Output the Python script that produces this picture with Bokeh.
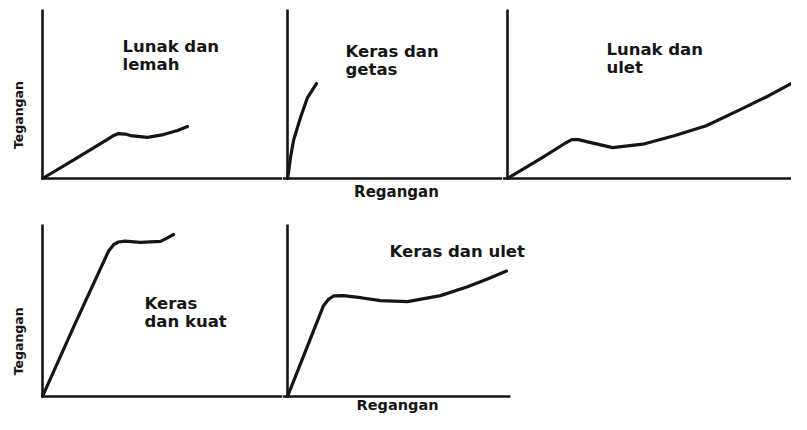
import math
from bokeh.plotting import figure
from bokeh.layouts import column, row
from bokeh.models import Span, Label
from bokeh.embed import file_html
from bokeh.resources import INLINE

# ---- data: strain (regangan) / stress (tegangan), arbitrary units ----
soft_weak_strain = [0, 1.3, 2.6, 2.85, 3.04, 3.3, 3.52, 4.2, 4.84, 5.4, 5.8]
soft_weak_stress = [0, 1.15, 2.31, 2.55, 2.66, 2.63, 2.54, 2.43, 2.6, 2.84, 3.08]

hard_brittle_strain = [0, 0.04, 0.12, 0.24, 0.52, 0.8, 1.16]
hard_brittle_stress = [0, 0.36, 1.24, 2.25, 3.61, 4.79, 5.62]

soft_ductile_strain = [0, 1.4, 2.45, 2.72, 3.0, 3.3, 4.44, 5.72, 7.04, 8.4, 9.72, 11.04, 12.0]
soft_ductile_stress = [0, 1.18, 2.1, 2.3, 2.3, 2.2, 1.83, 2.03, 2.53, 3.12, 4.0, 4.9, 5.62]

hard_strong_strain = [0, 1.3, 2.64, 2.85, 3.04, 3.3, 3.92, 4.72, 5.0, 5.24]
hard_strong_stress = [0, 4.35, 8.7, 9.1, 9.25, 9.3, 9.23, 9.29, 9.5, 9.7]

hard_ductile_strain = [0, 0.72, 1.44, 1.64, 1.84, 2.24, 3.0, 3.72, 4.8, 6.12, 7.2, 8.0, 8.76]
hard_ductile_stress = [0, 2.72, 5.44, 5.82, 6.02, 6.04, 5.9, 5.74, 5.68, 6.04, 6.57, 7.04, 7.51]

# length of the drawn strain axis in the last panel
hard_ductile_axis_end = 8.92

panel_titles = ["Lunak dan\nlemah", "Keras dan\ngetas", "Lunak dan\nulet",
                "Keras\ndan kuat", "Keras dan ulet"]
y_label = "Tegangan"
x_label = "Regangan"

INK = "#151515"
FONT = "DejaVu Sans"
AXW = 2.6


def panel(width, height, x_range, y_range, top_border, baseline):
    p = figure(width=width, height=height, x_range=x_range, y_range=y_range,
               output_backend="svg", toolbar_location=None,
               x_axis_location=None, y_axis_location=None,
               min_border=0, min_border_top=top_border)
    p.grid.visible = False
    p.outline_line_color = None
    p.background_fill_color = "white"
    p.border_fill_color = "white"
    # vertical stress axis from the origin upward
    p.ray(x=[0], y=[0], length=[0], angle=[math.pi / 2], line_color=INK, line_width=AXW)
    # horizontal strain axis
    if baseline == "ray":
        p.ray(x=[0], y=[0], length=[0], angle=[0], line_color=INK, line_width=AXW)
    elif baseline == "span":
        p.add_layout(Span(location=0, dimension="width", line_color=INK, line_width=AXW))
    return p


def title(p, txt, x, y):
    p.add_layout(Label(x=x, y=y, text=txt, text_font=FONT, text_font_style="bold",
                       text_font_size="16.5px", text_color=INK, text_align="left",
                       text_baseline="top", text_line_height=0.95))


def curve(p, xs, ys):
    p.line(xs, ys, line_color=INK, line_width=3.2, line_join="round", line_cap="round")


def ylab(p, x, y):
    p.add_layout(Label(x=x, y=y, text=y_label, angle=math.pi / 2, text_font=FONT,
                       text_font_style="bold", text_font_size="12.5px", text_color=INK,
                       text_align="center", text_baseline="middle"))


def xlab(p, x, y, size):
    p.add_layout(Label(x=x, y=y, text=x_label, text_font=FONT, text_font_style="bold",
                       text_font_size=size, text_color=INK, text_align="center",
                       text_baseline="middle"))


TOP_H = 202
BOT_H = 212
TOP_Y = (-1.42, 10.0)
BOT_Y = (-1.08, 10.3)

# ---- top row ----
p1 = panel(282, TOP_H, (-1.68, 9.6), TOP_Y, 9, "ray")
curve(p1, soft_weak_strain, soft_weak_stress)
title(p1, panel_titles[0], 3.2, 8.4)
ylab(p1, -0.96, 3.75)

p2 = panel(220, TOP_H, (-0.2, 8.6), TOP_Y, 9, "span")
curve(p2, hard_brittle_strain, hard_brittle_stress)
title(p2, panel_titles[1], 2.32, 8.1)
xlab(p2, 4.36, -0.8, "15px")

p3 = panel(289, TOP_H, (-0.211, 12.0), TOP_Y, 9, "span")
curve(p3, soft_ductile_strain, soft_ductile_stress)
title(p3, panel_titles[2], 4.18, 8.2)

# ---- bottom row ----
p4 = panel(282, BOT_H, (-1.68, 9.6), BOT_Y, 22, "ray")
curve(p4, hard_strong_strain, hard_strong_stress)
title(p4, panel_titles[3], 4.08, 6.15)
ylab(p4, -0.96, 3.3)

p5 = panel(258, BOT_H, (-0.2, 10.12), BOT_Y, 22, None)
p5.segment(x0=[-0.2], y0=[0], x1=[hard_ductile_axis_end], y1=[0],
           line_color=INK, line_width=AXW)
curve(p5, hard_ductile_strain, hard_ductile_stress)
title(p5, panel_titles[4], 4.08, 9.25)
xlab(p5, 4.4, -0.54, "14.5px")

layout = column(row(p1, p2, p3, spacing=0), row(p4, p5, spacing=0), spacing=0)

open("out.html", "w").write(file_html(layout, INLINE))
